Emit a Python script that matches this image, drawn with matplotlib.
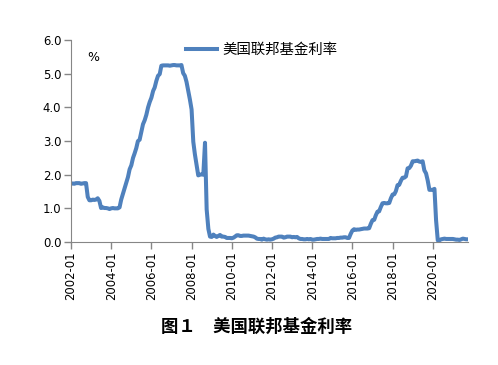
import matplotlib
matplotlib.use("Agg")
import matplotlib.pyplot as plt
import matplotlib.dates as mdates
import pandas as pd

plt.rcParams['font.family'] = ['DejaVu Sans', 'Noto Sans CJK SC']

# monthly effective federal funds rate, %, 2002-01 .. 2021-10
rate = [
    1.73, 1.74, 1.73, 1.75, 1.75, 1.75, 1.73, 1.74, 1.75, 1.75, 1.34, 1.24,   # 2002
    1.24, 1.26, 1.25, 1.26, 1.30, 1.22, 1.01, 1.03, 1.01, 1.01, 1.00, 0.98,   # 2003
    1.00, 1.01, 1.00, 1.00, 1.00, 1.03, 1.26, 1.43, 1.61, 1.76, 1.93, 2.16,   # 2004
    2.28, 2.50, 2.63, 2.79, 3.00, 3.04, 3.26, 3.50, 3.62, 3.78, 4.00, 4.16,   # 2005
    4.29, 4.49, 4.59, 4.79, 4.94, 4.99, 5.24, 5.25, 5.25, 5.25, 5.25, 5.24,   # 2006
    5.25, 5.26, 5.26, 5.25, 5.25, 5.25, 5.26, 5.02, 4.94, 4.76, 4.49, 4.24,   # 2007
    3.94, 2.98, 2.61, 2.28, 1.98, 2.00, 2.01, 2.00, 2.95, 0.97, 0.39, 0.16,   # 2008
    0.15, 0.22, 0.18, 0.15, 0.18, 0.21, 0.16, 0.16, 0.15, 0.12, 0.12, 0.12,   # 2009
    0.11, 0.13, 0.16, 0.20, 0.20, 0.18, 0.18, 0.19, 0.19, 0.19, 0.19, 0.18,   # 2010
    0.17, 0.16, 0.14, 0.10, 0.09, 0.09, 0.07, 0.10, 0.08, 0.07, 0.08, 0.07,   # 2011
    0.08, 0.10, 0.13, 0.14, 0.16, 0.16, 0.16, 0.13, 0.14, 0.16, 0.16, 0.16,   # 2012
    0.14, 0.15, 0.14, 0.15, 0.11, 0.09, 0.09, 0.08, 0.08, 0.09, 0.08, 0.09,   # 2013
    0.07, 0.07, 0.08, 0.09, 0.09, 0.10, 0.09, 0.09, 0.09, 0.09, 0.09, 0.12,   # 2014
    0.11, 0.11, 0.11, 0.12, 0.12, 0.13, 0.13, 0.14, 0.14, 0.12, 0.12, 0.24,   # 2015
    0.34, 0.38, 0.36, 0.37, 0.37, 0.38, 0.39, 0.40, 0.40, 0.40, 0.41, 0.54,   # 2016
    0.65, 0.66, 0.79, 0.90, 0.91, 1.04, 1.15, 1.16, 1.15, 1.15, 1.16, 1.30,   # 2017
    1.41, 1.42, 1.51, 1.69, 1.70, 1.82, 1.91, 1.91, 1.95, 2.19, 2.20, 2.27,   # 2018
    2.40, 2.40, 2.41, 2.42, 2.39, 2.38, 2.40, 2.13, 2.04, 1.83, 1.55, 1.55,   # 2019
    1.55, 1.58, 0.65, 0.05, 0.05, 0.08, 0.09, 0.10, 0.09, 0.09, 0.09, 0.09,   # 2020
    0.09, 0.08, 0.07, 0.07, 0.06, 0.08, 0.10, 0.09, 0.08, 0.08,               # 2021
]
dates = pd.date_range("2002-01-01", periods=len(rate), freq="MS")
tick_dates = pd.date_range("2002-01-01", "2020-01-01", freq="24MS")

legend_label = "美国联邦基金利率"
caption = "图１　美国联邦基金利率"

fig = plt.figure(figsize=(4.98, 3.65), dpi=100)
ax = fig.add_axes([0.1426, 0.337, 0.797, 0.553])

ax.plot(dates, rate, color='#4F81BD', lw=2.9, label=legend_label,
        solid_joinstyle='round')

ax.set_ylim(0, 6)
ax.set_yticks([0, 1, 2, 3, 4, 5, 6])
ax.yaxis.set_major_formatter(plt.FormatStrFormatter('%.1f'))
ax.set_xlim(dates[0], dates[-1])
ax.set_xticks(tick_dates)
ax.xaxis.set_major_formatter(mdates.DateFormatter('%Y-%m'))
plt.setp(ax.get_xticklabels(), rotation=90)

for s in ['top', 'right']:
    ax.spines[s].set_visible(False)
for s in ['left', 'bottom']:
    ax.spines[s].set_color('#868686')
ax.tick_params(axis='both', colors='#868686', labelcolor='black',
               direction='out', length=5, width=1, labelsize=8.4, pad=2)

ax.text(0.055, 0.916, '%', transform=ax.transAxes, fontsize=9,
        ha='center', va='center')

leg = ax.legend(loc='center left', bbox_to_anchor=(0.29, 0.95), frameon=False,
                borderpad=0, borderaxespad=0, handlelength=2.15,
                handletextpad=0.35, prop={'family': 'Noto Sans CJK SC', 'size': 10.4})

fig.text(0.516, 0.104, caption, ha='center', va='center', fontsize=12.5,
         fontweight='bold', family=['Noto Sans CJK SC', 'DejaVu Sans'])

fig.savefig('out.png', dpi=100)
